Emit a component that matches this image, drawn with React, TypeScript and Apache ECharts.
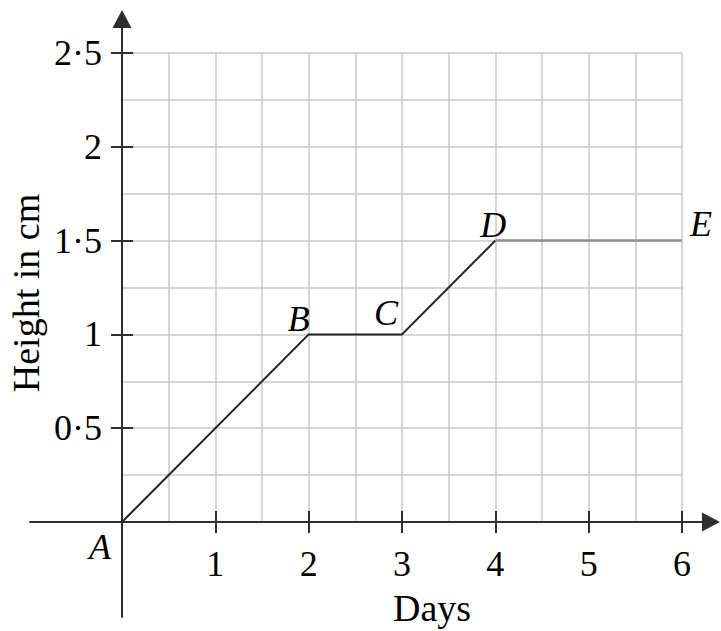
import { useEffect, useRef } from 'react';
import * as echarts from 'echarts';

// ---- data ----
const days = [0, 2, 3, 4, 6];
const heights = [0, 1, 1, 1.5, 1.5];
const pointNames = ['A', 'B', 'C', 'D', 'E'];
const xTickValues = [1, 2, 3, 4, 5, 6];
const yTickValues = [0.5, 1, 1.5, 2, 2.5];
const xTitle = 'Days';
const yTitle = 'Height in cm';

export default function App() {
  const ref = useRef<HTMLDivElement>(null);
  useEffect(() => {
    const chart = echarts.init(ref.current!, null, { renderer: 'svg' });
    const font = 'Liberation Serif';
    const ink = '#000';
    const axisInk = '#2e2e2e';
    const points = days.map((d, i) => ({ name: pointNames[i], value: [d, heights[i]] }));
    const labelOffsets: Record<string, number[]> = {
      A: [-22, 25],
      B: [-10, -15],
      C: [-16, -21],
      D: [-2, -16],
      E: [19, -17],
    };
    const fmt = (v: number) => String(v).replace('.', '·');
    const gridBox = { left: 122, top: 53, width: 560, height: 469, outerBoundsMode: 'none' };
    // big grid used only for the extended axis lines with arrows (same px/unit scale)
    const pxX = 560 / 6;
    const pxY = 469 / 2.5;
    const big = { left: 30, top: 19, width: 681, height: 598 };
    const bigXMin = -(122 - big.left) / pxX;
    const bigXMax = bigXMin + big.width / pxX;
    const bigYMax = (53 + 469 - big.top) / pxY;
    const bigYMin = bigYMax - big.height / pxY;

    chart.setOption({
      animation: false,
      grid: [
        { ...gridBox },
        { ...gridBox },
        { ...big, outerBoundsMode: 'none' },
      ],
      xAxis: [
        {
          gridIndex: 0, type: 'value', min: 0, max: 6, interval: 0.5,
          axisLine: { show: false }, axisTick: { show: false }, axisLabel: { show: false },
          splitLine: { show: true, lineStyle: { color: '#c8c8c8', width: 1.5 } },
        },
        {
          gridIndex: 1, type: 'value', min: 0, max: 6, offset: -11,
          axisLine: { show: false },
          axisTick: { show: true, length: 22, customValues: xTickValues, lineStyle: { color: axisInk, width: 2 } },
          axisLabel: { show: true, customValues: xTickValues, margin: 35, formatter: fmt, fontFamily: font, fontSize: 36, color: ink },
          splitLine: { show: false },
        },
        {
          gridIndex: 2, type: 'value', min: bigXMin, max: bigXMax,
          axisLine: { show: true, onZero: true, symbol: ['none', 'triangle'], symbolSize: [19, 18], lineStyle: { color: axisInk, width: 2 } },
          axisTick: { show: false }, axisLabel: { show: false }, splitLine: { show: false },
        },
      ],
      yAxis: [
        {
          gridIndex: 0, type: 'value', min: 0, max: 2.5, interval: 0.25,
          axisLine: { show: false }, axisTick: { show: false }, axisLabel: { show: false },
          splitLine: { show: true, lineStyle: { color: '#c8c8c8', width: 1.5 } },
        },
        {
          gridIndex: 1, type: 'value', min: 0, max: 2.5, offset: -11,
          axisLine: { show: false },
          axisTick: { show: true, length: 22, customValues: yTickValues, lineStyle: { color: axisInk, width: 2 } },
          axisLabel: { show: true, customValues: yTickValues, margin: 31, formatter: fmt, fontFamily: font, fontSize: 36, color: ink },
          splitLine: { show: false },
        },
        {
          gridIndex: 2, type: 'value', min: bigYMin, max: bigYMax,
          axisLine: { show: true, onZero: true, symbol: ['none', 'triangle'], symbolSize: [19, 18], lineStyle: { color: axisInk, width: 2 } },
          axisTick: { show: false }, axisLabel: { show: false }, splitLine: { show: false },
        },
      ],
      series: [
        {
          type: 'line', xAxisIndex: 0, yAxisIndex: 0, z: 5,
          data: points.slice(0, 4).map((p) => p.value),
          symbol: 'none', lineStyle: { color: '#222', width: 2 },
        },
        {
          type: 'line', xAxisIndex: 0, yAxisIndex: 0, z: 5,
          data: points.slice(3).map((p) => p.value),
          symbol: 'none', lineStyle: { color: '#8f8f8f', width: 2.5 },
        },
        {
          type: 'scatter', xAxisIndex: 0, yAxisIndex: 0, z: 6,
          symbolSize: 1, itemStyle: { color: 'rgba(0,0,0,0)' },
          data: points.map((p) => ({ name: p.name, value: p.value, label: { offset: labelOffsets[p.name] } })),
          label: {
            show: true, position: 'inside', formatter: '{b}', fontFamily: font, fontStyle: 'italic',
            fontSize: 36, color: ink, align: 'center', verticalAlign: 'middle',
            textBorderWidth: 0, opacity: 1,
          },
        },
      ],
      graphic: [
        {
          type: 'text', x: 432, y: 608,
          style: { text: xTitle, fontFamily: font, fontSize: 38, fill: ink, textAlign: 'center', textVerticalAlign: 'middle' },
        },
        {
          type: 'text', x: 26, y: 293, rotation: Math.PI / 2,
          style: { text: yTitle, fontFamily: font, fontSize: 38, fill: ink, textAlign: 'center', textVerticalAlign: 'middle' },
        },
      ],
    });
    return () => chart.dispose();
  }, []);
  return <div ref={ref} style={{ position: 'fixed', left: 0, top: 0, width: 721, height: 631, background: '#fff' }} />;
}
